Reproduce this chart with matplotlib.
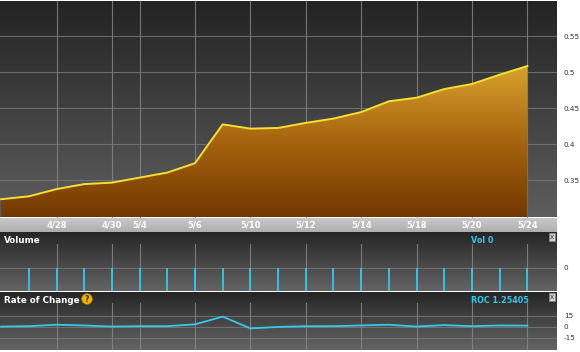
import numpy as np
import matplotlib
matplotlib.use("Agg")
import matplotlib.pyplot as plt
from matplotlib.colors import LinearSegmentedColormap

# ---- data ----
dates = ["4/26", "4/27", "4/28", "4/29", "4/30", "5/4", "5/5", "5/6", "5/7", "5/10",
         "5/11", "5/12", "5/13", "5/14", "5/17", "5/18", "5/19", "5/20", "5/21", "5/24"]
price = [0.324, 0.328, 0.338, 0.345, 0.347, 0.354, 0.361, 0.374, 0.428, 0.422,
         0.423, 0.430, 0.436, 0.445, 0.460, 0.465, 0.477, 0.484, 0.497, 0.509]
volume = [0] * 20
roc = [0.0, 0.5, 2.5, 1.5, 0.0, 0.5, 0.5, 3.0, 13.5, -2.5,
       -0.5, 0.5, 0.5, 1.5, 2.5, 0.0, 2.0, 0.5, 1.5, 1.25405]
labeled = ["4/28", "4/30", "5/4", "5/6", "5/10", "5/12", "5/14", "5/18", "5/20", "5/24"]
price_ticks = [0.35, 0.4, 0.45, 0.5, 0.55]
vol_ticks = [0]
roc_ticks = [15, 0, -15]

W, H = 580, 352
fig = plt.figure(figsize=(W / 100, H / 100), dpi=100)
fig.patch.set_facecolor("white")

def fr(x0, y0, x1, y1):
    return [x0 / W, 1 - y1 / H, (x1 - x0) / W, (y1 - y0) / H]

x = np.arange(len(dates))
lab_idx = [dates.index(d) for d in labeled]
XL = (-0.04, 20.07)
CYAN = "#35c8ea"

def bg(ax, top, bot):
    cmap = LinearSegmentedColormap.from_list("g", [bot, top])
    ax.imshow(np.linspace(0, 1, 256).reshape(-1, 1), cmap=cmap, origin="lower",
              extent=[0, 1, 0, 1], transform=ax.transAxes, aspect="auto", zorder=0)

def clean(ax):
    for s in ax.spines.values():
        s.set_visible(False)
    ax.yaxis.tick_right()
    ax.tick_params(left=False, bottom=False, labelleft=False, labelbottom=False,
                   right=False, labelright=True, labelsize=5.2, labelcolor="#333333", pad=1.5)

# ---- main price panel ----
ax = fig.add_axes(fr(0, 0.5, 557, 217.5))
bg(ax, "#232323", "#5e5e5e")
ax.set_xlim(*XL)
ax.set_ylim(0.2986, 0.6)
for xi in lab_idx:
    ax.axvline(xi, color="#8a8a8a", lw=0.8, alpha=0.8, zorder=1)
for t in price_ticks:
    ax.axhline(t, color="#7a7a7a", lw=0.8, alpha=0.8, zorder=1)
poly = ax.fill_between(x, price, 0.2986, color="none", lw=0, zorder=2)
fcmap = LinearSegmentedColormap.from_list("f", ["#733800", "#a86510", "#daa62e"])
gim = ax.imshow(np.linspace(0, 1, 256).reshape(-1, 1), cmap=fcmap, origin="lower",
                extent=[x[0], x[-1], 0.2986, 0.515], aspect="auto", zorder=2)
gim.set_clip_path(poly.get_paths()[0], transform=ax.transData)
ax.plot(x, price, color="#f2e030", lw=1.4, zorder=3)
ax.set_yticks(price_ticks)
ax.set_yticklabels([f"{t:g}" for t in price_ticks])
clean(ax)

# ---- date strip ----
axd = fig.add_axes(fr(0, 217.5, 557, 231.5))
bg(axd, "#cacaca", "#aeaeae")
axd.set_xlim(*XL)
axd.set_ylim(0, 1)
axd.axis("off")
for xi, d in zip(lab_idx, labeled):
    axd.text(xi, 0.45, d, color="white", fontsize=6, fontweight="bold",
             ha="center", va="center")

# ---- volume panel ----
axv = fig.add_axes(fr(0, 232, 557, 291))
bg(axv, "#262626", "#646464")
axv.set_xlim(*XL)
axv.set_ylim(-1, 1.53)
for xi in lab_idx:
    axv.plot([xi, xi], [-1, 1.0], color="#8a8a8a", lw=0.8, alpha=0.8, zorder=1)
axv.axhline(0, color="#7a7a7a", lw=0.8, alpha=0.8, zorder=1)
axv.vlines(x[1:], -1, np.array(volume[1:]), color=CYAN, lw=1.3, zorder=3)
axv.set_yticks(vol_ticks)
axv.set_yticklabels([str(v) for v in vol_ticks])
clean(axv)
axv.text(4 / 557, 0.93, "Volume", transform=axv.transAxes, color="white",
         fontsize=6.3, fontweight="bold", va="top", ha="left")
axv.text(471 / 557, 0.93, f"Vol {volume[-1]}", transform=axv.transAxes, color=CYAN,
         fontsize=5.8, fontweight="bold", va="top", ha="left")

# ---- ROC panel ----
axr = fig.add_axes(fr(0, 292, 557, 350))
bg(axr, "#262626", "#646464")
axr.set_xlim(*XL)
axr.set_ylim(-31.8, 46.9)
for xi in lab_idx:
    axr.plot([xi, xi], [-31.8, 32], color="#8a8a8a", lw=0.8, alpha=0.8, zorder=1)
for t in roc_ticks:
    axr.axhline(t, color="#7a7a7a", lw=0.8, alpha=0.8, zorder=1)
axr.plot(x, roc, color=CYAN, lw=1.3, zorder=3)
axr.set_yticks(roc_ticks)
axr.set_yticklabels([str(t) for t in roc_ticks])
clean(axr)
axr.text(4 / 557, 0.93, "Rate of Change", transform=axr.transAxes, color="white",
         fontsize=6.3, fontweight="bold", va="top", ha="left")
axr.text(471 / 557, 0.93, f"ROC {roc[-1]:.5f}", transform=axr.transAxes, color=CYAN,
         fontsize=5.8, fontweight="bold", va="top", ha="left")
# help icon
fig.text(87 / W, 1 - 299 / H, "?", color="#3a2a00", fontsize=5.5, fontweight="bold",
         ha="center", va="center",
         bbox=dict(boxstyle="circle,pad=0.1", fc="#f0b400", ec="#c08800", lw=0.5))

# close boxes
for yy in (237, 297):
    fig.text(552 / W, 1 - yy / H, "x", color="#333333", fontsize=5, ha="center",
             va="center", bbox=dict(boxstyle="square,pad=0.15", fc="#d0d0d0",
                                    ec="#888888", lw=0.5))

fig.savefig("out.png", dpi=100, facecolor="white")
